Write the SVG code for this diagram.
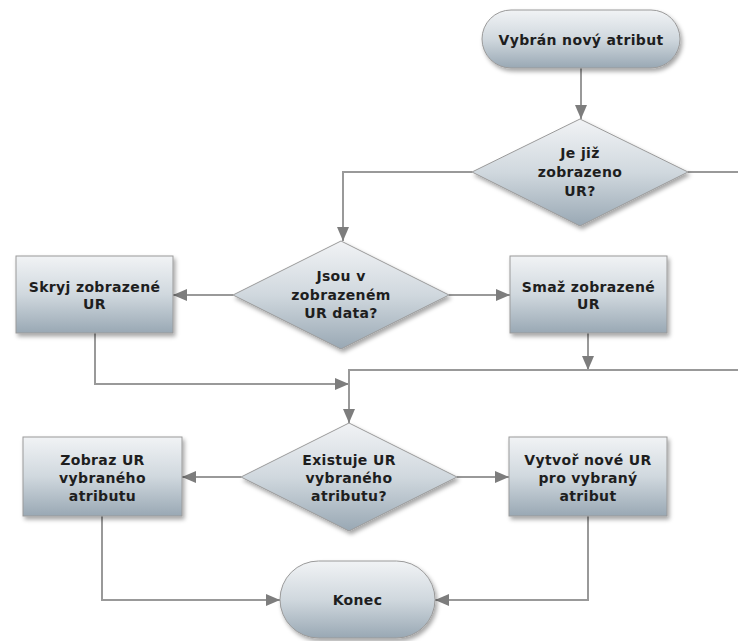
<svg xmlns="http://www.w3.org/2000/svg" width="738" height="641" viewBox="0 0 738 641">
<defs>
<linearGradient id="g" x1="0" y1="0" x2="0" y2="1">
<stop offset="0" stop-color="#f1f3f5"/>
<stop offset="0.5" stop-color="#d0d8de"/>
<stop offset="1" stop-color="#99a8b4"/>
</linearGradient>
<filter id="sh" x="-10%" y="-10%" width="125%" height="130%">
<feDropShadow dx="2" dy="3" stdDeviation="2" flood-color="#000" flood-opacity="0.35"/>
</filter>
<marker id="ah" viewBox="0 0 14 12" refX="14" refY="6" markerWidth="14" markerHeight="12" markerUnits="userSpaceOnUse" orient="auto">
<path d="M0,0 L14,6 L0,12 Z" fill="#7d7d7d"/>
</marker>
<style>
.n{fill:url(#g);stroke:#9a9a9a;stroke-width:1;filter:url(#sh)}
.t{font-family:"DejaVu Sans",Verdana,sans-serif;font-weight:bold;font-size:14px;letter-spacing:0.35px;fill:#1e1e1e;text-anchor:middle}
.c{fill:none;stroke:#999;stroke-width:2}
.a{marker-end:url(#ah)}
</style>
</defs>
<rect width="738" height="641" fill="#fff"/>
<g id="connectors">
<path class="c a" d="M581,68 V119"/>
<path class="c" d="M688,172 H738"/>
<path class="c a" d="M472,172 H343 V241"/>
<path class="c a" d="M233,295 H173"/>
<path class="c a" d="M449,295 H510"/>
<path class="c a" d="M95,333 V384 H349"/>
<path class="c a" d="M588,333 V370"/>
<path class="c a" d="M738,370 H349 V423"/>
<path class="c a" d="M241,477 H182"/>
<path class="c a" d="M457,477 H509"/>
<path class="c a" d="M102,516 V600 H280"/>
<path class="c a" d="M588,516 V600 H435"/>
</g>
<g id="start">
<rect class="n" x="482" y="10" width="198" height="58" rx="29"/>
<text class="t" x="581" y="45">Vybrán nový atribut</text>
</g>
<g id="d1">
<polygon class="n" points="580,119 688,172 580,226 472,172"/>
<text class="t" x="580" y="158">Je již</text>
<text class="t" x="580" y="177">zobrazeno</text>
<text class="t" x="580" y="196">UR?</text>
</g>
<g id="d2">
<polygon class="n" points="341,241 449,295 341,349 233,295"/>
<text class="t" x="341" y="281">Jsou v</text>
<text class="t" x="341" y="299.5">zobrazeném</text>
<text class="t" x="341" y="318">UR data?</text>
</g>
<g id="skryj">
<rect class="n" x="16" y="256" width="157" height="77"/>
<text class="t" x="94.5" y="292">Skryj zobrazené</text>
<text class="t" x="94.5" y="309">UR</text>
</g>
<g id="smaz">
<rect class="n" x="510" y="256" width="157" height="77"/>
<text class="t" x="588.5" y="292">Smaž zobrazené</text>
<text class="t" x="588.5" y="309">UR</text>
</g>
<g id="d3">
<polygon class="n" points="349,423 457,477 349,531 241,477"/>
<text class="t" x="349" y="465">Existuje UR</text>
<text class="t" x="349" y="483">vybraného</text>
<text class="t" x="349" y="500.5">atributu?</text>
</g>
<g id="zobraz">
<rect class="n" x="23" y="437" width="159" height="79"/>
<text class="t" x="102.5" y="465">Zobraz UR</text>
<text class="t" x="102.5" y="483">vybraného</text>
<text class="t" x="102.5" y="500.5">atributu</text>
</g>
<g id="vytvor">
<rect class="n" x="509" y="437" width="158" height="79"/>
<text class="t" x="588" y="465">Vytvoř nové UR</text>
<text class="t" x="588" y="483">pro vybraný</text>
<text class="t" x="588" y="500.5">atribut</text>
</g>
<g id="konec">
<rect class="n" x="280" y="561" width="155" height="77" rx="38.5"/>
<text class="t" x="357.5" y="605">Konec</text>
</g>
</svg>
